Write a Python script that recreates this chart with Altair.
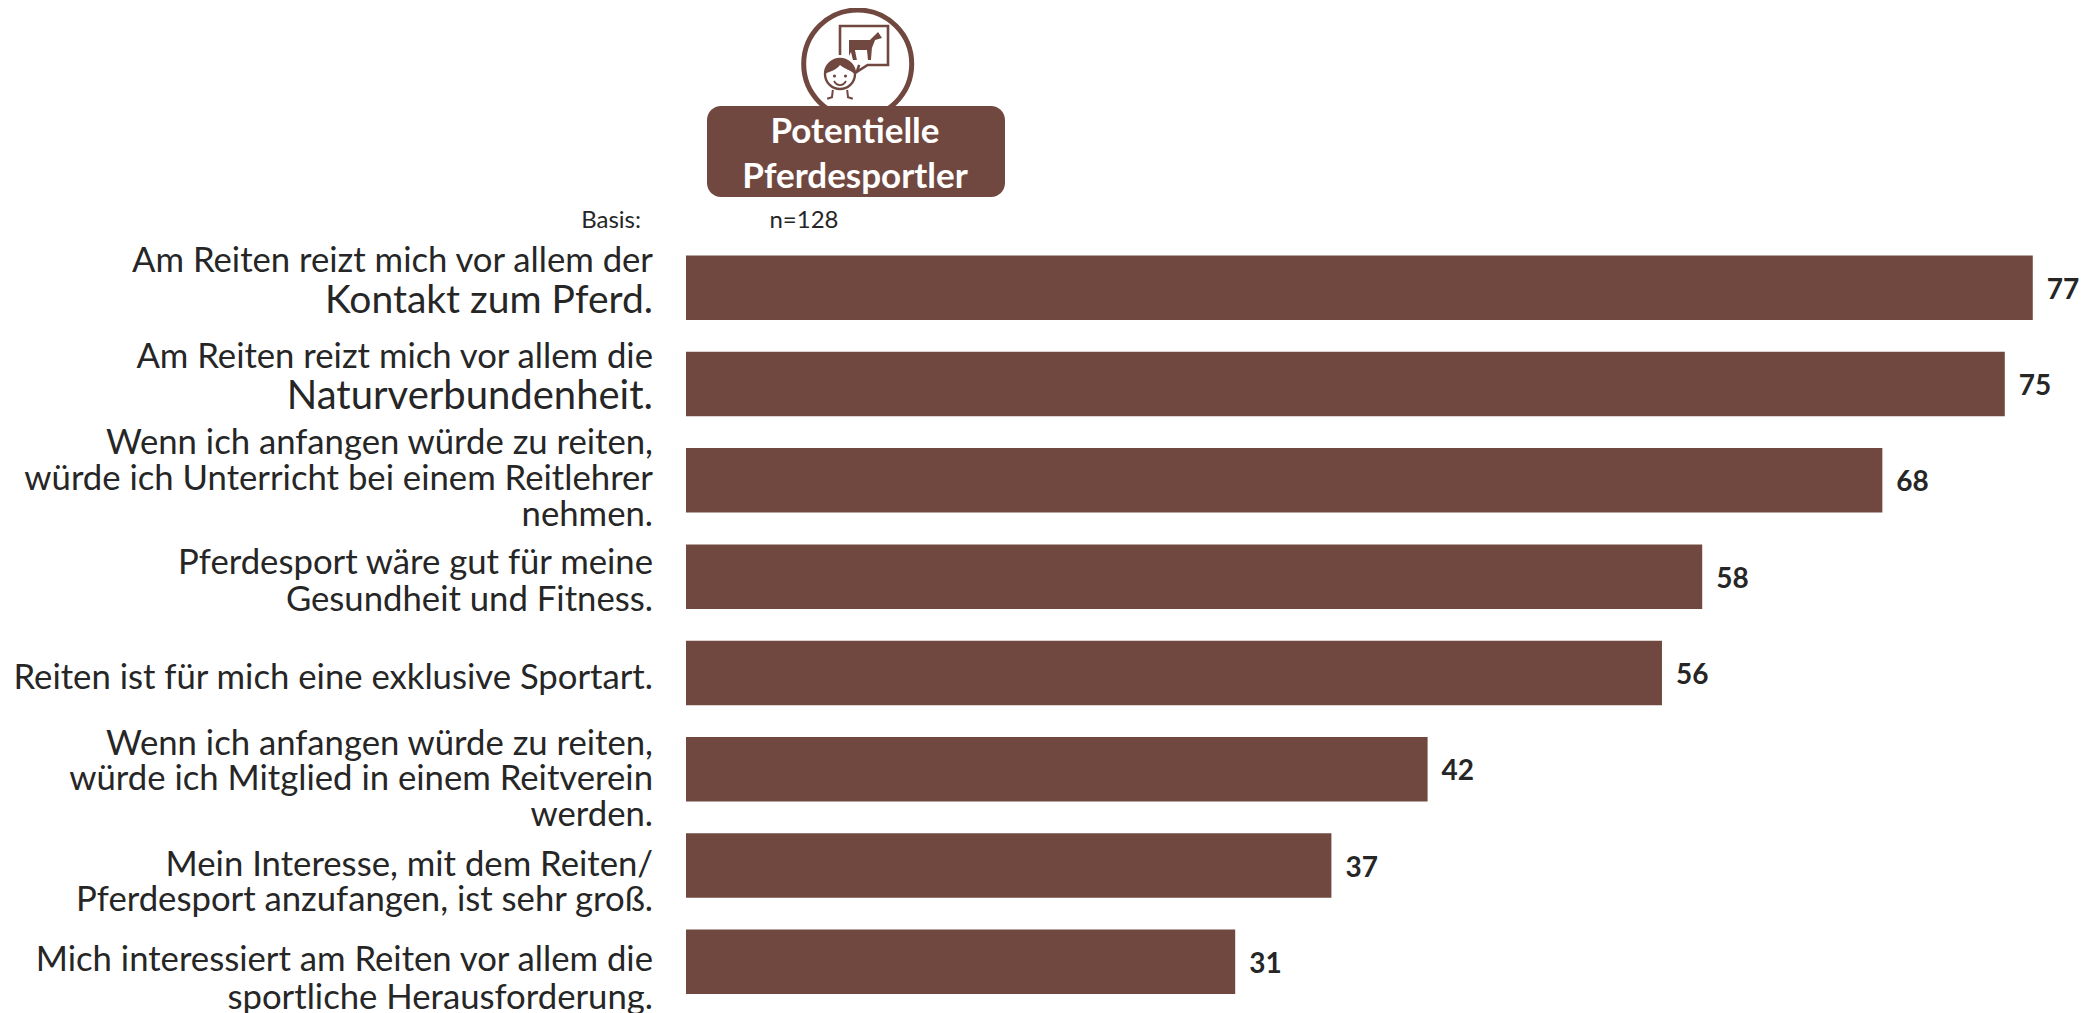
import altair as alt
import pandas as pd

categories = ["A", "B", "C", "D", "E", "F", "G", "H"]
values = [77.0, 75.4, 68.4, 58.1, 55.8, 42.4, 36.9, 31.4]
# category, line, font size, offset from the category centre
label_lines = [
    ("A", "Am Reiten reizt mich vor allem der", 34.7, -26),
    ("A", "Kontakt zum Pferd.", 39, 13),
    ("B", "Am Reiten reizt mich vor allem die", 34.7, -26),
    ("B", "Naturverbundenheit.", 40, 13),
    ("C", "Wenn ich anfangen würde zu reiten,", 34.7, -36),
    ("C", "würde ich Unterricht bei einem Reitlehrer", 34.7, 0),
    ("C", "nehmen.", 34.7, 36),
    ("D", "Pferdesport wäre gut für meine", 34.7, -13),
    ("D", "Gesundheit und Fitness.", 34.7, 24),
    ("E", "Reiten ist für mich eine exklusive Sportart.", 34.7, 6),
    ("F", "Wenn ich anfangen würde zu reiten,", 34.7, -24),
    ("F", "würde ich Mitglied in einem Reitverein", 34.7, 11),
    ("F", "werden.", 34.7, 47),
    ("G", "Mein Interesse, mit dem Reiten/", 34.7, 0),
    ("G", "Pferdesport anzufangen, ist sehr groß.", 34.7, 35),
    ("H", "Mich interessiert am Reiten vor allem die", 34.7, -1),
    ("H", "sportliche Herausforderung.", 34.7, 37),
]
FONT = "Lato"
BROWN = "#714840"
INK = "#262626"
W, H = 1394, 1005
PAD_L = 678


def sx(px):
    return px - 8 - PAD_L


def sy(py):
    return py - 8


df = pd.DataFrame({"cat": categories, "value": values})
x = alt.X("value:Q", scale=alt.Scale(domain=[0, 79.7], range=[0, W]), axis=None)
y = alt.Y("cat:N", sort=categories, axis=None,
          scale=alt.Scale(domain=categories, range=[247.5, 986.1], paddingInner=0.33, paddingOuter=0))

bars = alt.Chart(df).mark_bar(color=BROWN).encode(x=x, y=y)
nums = alt.Chart(df).mark_text(font=FONT, fontWeight="bold", fontSize=28, color=INK,
                               align="left", baseline="middle", dx=14, dy=3).encode(
    x=x, y=y, text=alt.Text("value:Q", format=".0f"))
layers = [bars, nums]
for cat, line, size, off in label_lines:
    layers.append(
        alt.Chart(pd.DataFrame({"cat": [cat], "t": [line]})).mark_text(
            font=FONT, fontSize=size, color=INK, align="right", baseline="middle", dy=off
        ).encode(x=alt.value(-33), y=y, text="t:N")
    )

base = alt.Chart(pd.DataFrame({"k": [0]}))


def sym(shape, px, py, half, filled=False, sw=2.4, fill=None):
    opts = dict(shape=shape, size=(2 * half) ** 2, filled=filled, opacity=1)
    if filled:
        opts.update(fill=fill or BROWN, stroke=BROWN if fill else None, strokeWidth=sw if fill else 0)
    else:
        opts.update(stroke=BROWN, strokeWidth=sw)
    opts = {k: v for k, v in opts.items() if v is not None}
    return base.mark_point(**opts).encode(x=alt.value(sx(px)), y=alt.value(sy(py)))


def caption(text, px, py, size, weight="normal", color=INK, align="center"):
    return base.transform_calculate(t=f"'{text}'").mark_text(
        font=FONT, fontWeight=weight, fontSize=size, color=color, align=align, baseline="middle"
    ).encode(x=alt.value(sx(px)), y=alt.value(sy(py)), text="t:N")


layers += [
    sym("circle", 857.7, 64, 54, sw=5),
    # speech bubble
    sym("M-1,0.4V-0.81H1V0.81H0.15L-0.3,1.1L-0.2,0.81", 864, 45.5, 24, sw=2.6),
    # horse
    sym("M-1,-0.36H0.27L0.76,-0.85L1,-0.48L0.58,-0.36L0.39,0.12L0.33,0.85H0.15L0.09,0.24H-0.64"
        "L-0.52,0.85H-0.76L-0.88,0.36L-1,0.6Z", 865.5, 46, 16.5, filled=True),
    # head
    sym("circle", 840, 74, 15, filled=True, fill="white", sw=2.4),
    sym("M-1,0C-1,-0.7 -0.5,-1 0,-1C0.5,-1 1,-0.7 1,0C0.6,-0.3 0.2,-0.4 0,-0.6C-0.3,-0.2 -0.7,-0.2 -1,0Z",
        840, 74, 15, filled=True),
    sym("circle", 834.5, 76, 1.6, filled=True),
    sym("circle", 845.5, 76, 1.6, filled=True),
    sym("M-1,0C-0.5,0.9 0.5,0.9 1,0", 840, 81, 6, sw=1.8),
    sym("M-0.9,-0.5L-1,0.4L-1.6,0.6M0.9,-0.5L1,0.4L1.6,0.6", 840, 94, 8, sw=2),
    # header box and texts
    base.mark_bar(color=BROWN, cornerRadius=14).encode(
        x=alt.value(sx(707)), x2=alt.value(sx(1005)), y=alt.value(sy(106)), y2=alt.value(sy(197))),
    caption("Potentielle", 855, 132, 35, weight="bold", color="white"),
    caption("Pferdesportler", 855, 177, 35, weight="bold", color="white"),
    caption("Basis:", 641, 221, 24, align="right"),
    caption("n=128", 804, 221, 24),
]

chart = alt.layer(*layers).properties(
    width=W, height=H, autosize=alt.AutoSizeParams(type="none"),
    padding={"left": PAD_L, "top": 0, "right": 0, "bottom": 0},
).configure_view(stroke=None)
chart.save("out.html", embed_options={"renderer": "svg", "actions": False})
